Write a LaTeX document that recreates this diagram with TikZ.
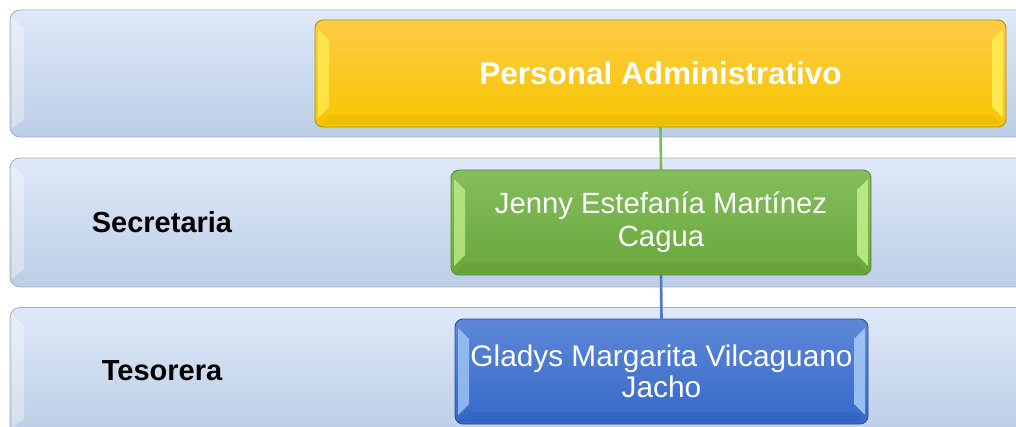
\documentclass[tikz,border=0pt]{standalone}
\usepackage{fontspec}
\setmainfont{Liberation Sans}
\usetikzlibrary{calc}
\definecolor{bandtop}{HTML}{DFE9F9}
\definecolor{bandbot}{HTML}{BCCDE5}
\definecolor{banddraw}{HTML}{A3AFC0}
\definecolor{ytop}{HTML}{FDCB45}
\definecolor{ybot}{HTML}{F8C600}
\definecolor{ydraw}{HTML}{B8900A}
\definecolor{ybev}{HTML}{FFEE55}
\definecolor{gtop}{HTML}{84BE5E}
\definecolor{gbot}{HTML}{69A63A}
\definecolor{gdraw}{HTML}{5A8A34}
\definecolor{gbev}{HTML}{C4F08C}
\definecolor{btop}{HTML}{5D88D8}
\definecolor{bbot}{HTML}{3568C8}
\definecolor{bdraw}{HTML}{2E4E90}
\definecolor{bbev}{HTML}{A8CCF8}
\definecolor{gline}{HTML}{7DB956}
\definecolor{bline}{HTML}{4A78D0}
\begin{document}
\begin{tikzpicture}[x=1pt,y=-1pt,
  band/.style={draw=banddraw,line width=0.8pt,rounded corners=10pt,top color=bandtop,bottom color=bandbot,inner sep=0pt,outer sep=0pt},
  boxbase/.style={rounded corners=8pt,line width=0.9pt,inner sep=0pt,outer sep=0pt,text=white,align=center},
  ybox/.style={boxbase,draw=ydraw,top color=ytop,bottom color=ybot,font=\bfseries\fontsize{31.5}{36}\selectfont},
  gbox/.style={boxbase,draw=gdraw,top color=gtop,bottom color=gbot,font=\fontsize{29.3}{32.5}\selectfont},
  bbox/.style={boxbase,draw=bdraw,top color=btop,bottom color=bbot,font=\fontsize{29.8}{31.5}\selectfont},
  lbl/.style={font=\bfseries\fontsize{29}{33}\selectfont,text=black,inner sep=0pt},
  conn/.style={line width=2.6pt}
]
\useasboundingbox (0,0) rectangle (1016,427);
\clip (0,0) rectangle (1016,427);
% bands
\node[band,minimum width=1030pt,minimum height=127pt] (b1) at (525,73.5) {};
\node[band,minimum width=1030pt,minimum height=129pt] (b2) at (525,222.5) {};
\node[band,minimum width=1030pt,minimum height=129pt] (b3) at (525,372) {};
\foreach \b in {b1,b2,b3}{
  \fill[white,opacity=0.35] ($(\b.north west)+(2,8)$) -- ($(\b.north west)+(14,18)$) -- ($(\b.south west)+(14,-18)$) -- ($(\b.south west)+(2,-8)$) -- cycle;
}
% labels
\node[lbl] (l2) at (162,222) {Secretaria};
\node[lbl] (l3) at (162,371) {Tesorera};
% boxes
\node[ybox,minimum width=691pt,minimum height=107pt] (y) at (660.5,73.5) {Personal Administrativo};
\node[gbox,minimum width=420pt,minimum height=105pt] (g) at (661,222.5) {Jenny Estefanía Martínez\\Cagua};
\node[bbox,minimum width=413pt,minimum height=105pt] (bl) at (661.5,371.5) {Gladys Margarita Vilcaguano\\Jacho};
% bevels
\foreach \n/\c in {y/ybev,g/gbev,bl/bbev}{
  \fill[\c,opacity=0.75] ($(\n.north west)+(3,9)$) -- ($(\n.north west)+(14,20)$) -- ($(\n.south west)+(14,-20)$) -- ($(\n.south west)+(3,-9)$) -- cycle;
  \fill[\c,opacity=0.85] ($(\n.north east)+(-3,9)$) -- ($(\n.north east)+(-14,20)$) -- ($(\n.south east)+(-14,-20)$) -- ($(\n.south east)+(-3,-9)$) -- cycle;
  \fill[black,opacity=0.04] ($(\n.south west)+(14,-12)$) -- ($(\n.south east)+(-14,-12)$) -- ($(\n.south east)+(-4,-2)$) -- ($(\n.south west)+(4,-2)$) -- cycle;
}
% connectors
\draw[conn,gline] (y.south) -- (g.north);
\draw[conn,bline] (g.south) -- (bl.north);
\end{tikzpicture}
\end{document}
